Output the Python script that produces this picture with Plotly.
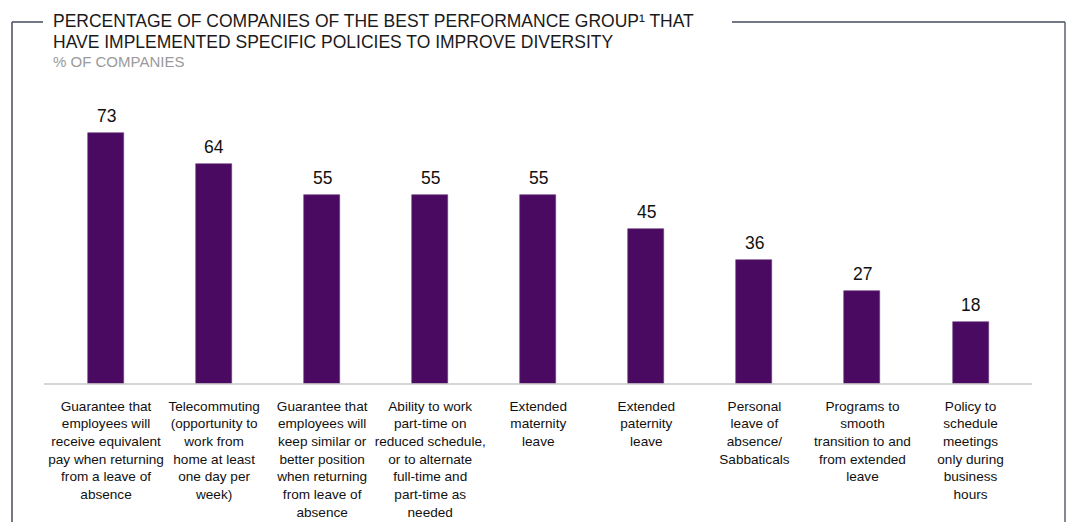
import plotly.graph_objects as go

categories = [
    "Guarantee that<br>employees will<br>receive equivalent<br>pay when returning<br>from a leave of<br>absence",
    "Telecommuting<br>(opportunity to<br>work from<br>home at least<br>one day per<br>week)",
    "Guarantee that<br>employees will<br>keep similar or<br>better position<br>when returning<br>from leave of<br>absence",
    "Ability to work<br>part-time on<br>reduced schedule,<br>or to alternate<br>full-time and<br>part-time as<br>needed",
    "Extended<br>maternity<br>leave",
    "Extended<br>paternity<br>leave",
    "Personal<br>leave of<br>absence/<br>Sabbaticals",
    "Programs to<br>smooth<br>transition to and<br>from extended<br>leave",
    "Policy to<br>schedule<br>meetings<br>only during<br>business<br>hours",
]
values = [73, 64, 55, 55, 55, 45, 36, 27, 18]

title_lines = [
    "PERCENTAGE OF COMPANIES OF THE BEST PERFORMANCE GROUP¹ THAT",
    "HAVE IMPLEMENTED SPECIFIC POLICIES TO IMPROVE DIVERSITY",
]
subtitle_text = "% OF COMPANIES"

FONT = "Liberation Sans, Arial, sans-serif"
BAR = "#4B0A62"
FRAME = "#444a5e"

W, H = 1066, 522
ML, MR, MT, MB = 44, 34, 100, 138
pw = W - ML - MR
ph = H - MT - MB

def px_x(x):
    return (x - ML) / pw

def px_y(y):
    return (H - MB - y) / ph

idx = list(range(len(categories)))

fig = go.Figure(go.Bar(
    x=idx, y=values, width=0.333,
    marker=dict(color=BAR, line=dict(color="#6a3a80", width=0.6)),
    cliponaxis=False, hoverinfo="skip",
))

value_anns = [
    dict(x=i, y=v, xref="x", yref="y", text=str(v), showarrow=False,
         yanchor="bottom", yshift=5,
         font=dict(size=17.5, color="#111111", family=FONT))
    for i, v in zip(idx, values)
]

title_anns = [
    dict(text=t, xref="paper", yref="paper", x=px_x(51), y=px_y(yc),
         xanchor="left", yanchor="middle", align="left", showarrow=False,
         font=dict(size=17.5, color="#1a1a1a", family=FONT))
    for t, yc in zip(title_lines, [20.5, 41.5])
]

fig.update_layout(
    width=W, height=H, autosize=False,
    margin=dict(l=ML, r=MR, t=MT, b=MB, autoexpand=False),
    paper_bgcolor="white", plot_bgcolor="white",
    showlegend=False,
    bargap=0,
    xaxis=dict(
        range=[-0.574, 8.569], tickvals=idx, ticktext=categories, tickangle=0,
        tickfont=dict(size=13.6, color="#111111", family=FONT),
        showgrid=False, zeroline=False, showline=False, ticks="",
        ticklabelstandoff=12, automargin=False, fixedrange=True,
    ),
    yaxis=dict(range=[0, 82.6], visible=False, automargin=False, fixedrange=True),
    shapes=[
        dict(type="line", xref="paper", yref="paper", x0=0, x1=1, y0=0, y1=0,
             line=dict(color="#c9c9c9", width=1.5)),
        dict(type="line", xref="paper", yref="paper", x0=px_x(12), x1=px_x(12),
             y0=px_y(22), y1=px_y(530), line=dict(color=FRAME, width=1.5)),
        dict(type="line", xref="paper", yref="paper", x0=px_x(12), x1=px_x(43),
             y0=px_y(22), y1=px_y(22), line=dict(color=FRAME, width=1.5)),
        dict(type="line", xref="paper", yref="paper", x0=px_x(732), x1=px_x(1065),
             y0=px_y(22), y1=px_y(22), line=dict(color=FRAME, width=1.5)),
        dict(type="line", xref="paper", yref="paper", x0=px_x(1065), x1=px_x(1065),
             y0=px_y(22), y1=px_y(530), line=dict(color="#5e6272", width=1.5)),
    ],
    annotations=title_anns + [
        dict(text=subtitle_text, xref="paper", yref="paper", x=px_x(51), y=px_y(61),
             xanchor="left", yanchor="middle", align="left", showarrow=False,
             font=dict(size=15, color="#9a9a9a", family=FONT)),
    ] + value_anns,
)

post = "document.body.style.margin='0';"

fig.write_html("out.html", post_script=post, config={"displayModeBar": False})
